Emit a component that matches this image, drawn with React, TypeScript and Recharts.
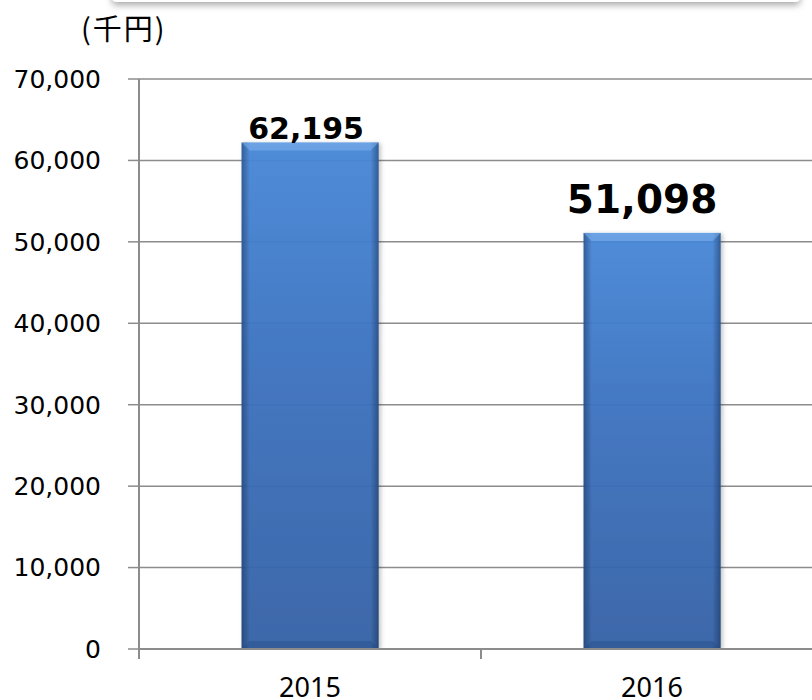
import React from "react"
import { BarChart, Bar, XAxis, YAxis, CartesianGrid, LabelList } from "recharts"

const years = ["2015", "2016"]
const amounts = [62195, 51098]
const yTicks = [0, 10000, 20000, 30000, 40000, 50000, 60000, 70000]
const unitLabel = "(千円)"

const data = years.map((year, i) => ({ year, amount: amounts[i] }))

// value label look per bar (the source chart uses two different sizes)
const labelFont = [30, 39]
const labelLift = [4, 20]
const labelShift = [-4, -10]

const GRID = "#8c8c8c"

// eslint-disable-next-line @typescript-eslint/no-explicit-any
function BevelBar(props: any) {
  const { x, y, width, height } = props
  if (!height || height <= 0) return null
  const b = 8
  return (
    <g filter="url(#barShadow)">
      <rect x={x} y={y} width={width} height={height} fill="url(#barFill)" fillOpacity={0.94} />
      <rect x={x} y={y} width={width} height={height} fill="url(#barEdge)" />
      <polygon
        points={`${x},${y} ${x + width},${y} ${x + width - b},${y + b} ${x + b},${y + b}`}
        fill="#7fb2ec"
        fillOpacity={0.55}
      />
      <polygon
        points={`${x},${y + height} ${x + width},${y + height} ${x + width - b},${y + height - b} ${x + b},${y + height - b}`}
        fill="#1f447a"
        fillOpacity={0.35}
      />
    </g>
  )
}

// eslint-disable-next-line @typescript-eslint/no-explicit-any
function YearTick(props: any) {
  const { x, y, payload, width } = props
  const band = (width || 684) / years.length
  const axisY = y - 10
  const left = x - band / 2
  return (
    <g>
      <line x1={left} x2={left} y1={axisY} y2={axisY + 10} stroke={GRID} strokeWidth={2} />
      <text
        x={x}
        y={axisY + 48}
        textAnchor="middle"
        fontSize={27}
        fontFamily="'Noto Sans', sans-serif"
        fill="#000"
      >
        {payload.value}
      </text>
    </g>
  )
}

// eslint-disable-next-line @typescript-eslint/no-explicit-any
function ValueLabel(props: any) {
  const { x, y, width, value, index } = props
  return (
    <text
      x={x + width / 2 + labelShift[index]}
      y={y - labelLift[index]}
      textAnchor="middle"
      fontSize={labelFont[index]}
      fontWeight="bold"
      fontFamily="'DejaVu Sans', Verdana, sans-serif"
      fill="#000"
    >
      {Number(value).toLocaleString("en-US")}
    </text>
  )
}

export default function App() {
  return (
    <div
      style={{
        position: "absolute",
        top: 0,
        left: 0,
        width: 812,
        height: 700,
        overflow: "hidden",
        background: "#fff",
      }}
    >
      {/* bottom edge of the title box above the chart */}
      <div
        style={{
          position: "absolute",
          left: 112,
          top: -40,
          width: 688,
          height: 42,
          background: "#fff",
          borderRadius: 4,
          boxShadow: "0 3px 7px rgba(0,0,0,0.35)",
        }}
      />
      <div
        style={{
          position: "absolute",
          left: 81,
          top: 6,
          fontSize: 29,
          letterSpacing: 2,
          fontFamily: "'Noto Sans CJK JP', sans-serif",
          color: "#000",
        }}
      >
        {unitLabel}
      </div>
      <BarChart
        width={840}
        height={700}
        data={data}
        margin={{ top: 79, right: 17, bottom: 0, left: 0 }}
        barCategoryGap="30%"
      >
        <defs>
          <linearGradient id="barFill" x1="0" y1="0" x2="0" y2="1">
            <stop offset="0%" stopColor="#4888d8" />
            <stop offset="45%" stopColor="#3c72bf" />
            <stop offset="100%" stopColor="#3462a6" />
          </linearGradient>
          <linearGradient id="barEdge" x1="0" y1="0" x2="1" y2="0">
            <stop offset="0%" stopColor="#0d2244" stopOpacity={0.45} />
            <stop offset="6%" stopColor="#0d2244" stopOpacity={0} />
            <stop offset="94%" stopColor="#0d2244" stopOpacity={0} />
            <stop offset="100%" stopColor="#0d2244" stopOpacity={0.45} />
          </linearGradient>
          <filter id="barShadow" x="-10%" y="-5%" width="120%" height="110%">
            <feDropShadow dx="2" dy="1" stdDeviation="2" floodColor="#000" floodOpacity={0.25} />
          </filter>
        </defs>
        <CartesianGrid horizontal vertical={false} stroke={GRID} strokeWidth={1.5} />
        <XAxis
          dataKey="year"
          height={51}
          axisLine={{ stroke: GRID, strokeWidth: 2 }}
          tickLine={false}
          tickSize={10}
          tickMargin={0}
          tick={<YearTick />}
          interval={0}
        />
        <YAxis
          width={139}
          domain={[0, 70000]}
          ticks={yTicks}
          allowDataOverflow
          axisLine={{ stroke: GRID, strokeWidth: 2 }}
          tickLine={{ stroke: GRID, strokeWidth: 1.5 }}
          tickSize={11}
          tickMargin={27}
          tick={{ fontSize: 25, fill: "#000", fontFamily: "'DejaVu Sans', Verdana, sans-serif" }}
          tickFormatter={(v: number) => v.toLocaleString("en-US")}
        />
        <Bar dataKey="amount" shape={<BevelBar />} isAnimationActive={false}>
          <LabelList dataKey="amount" content={<ValueLabel />} />
        </Bar>
      </BarChart>
    </div>
  )
}
